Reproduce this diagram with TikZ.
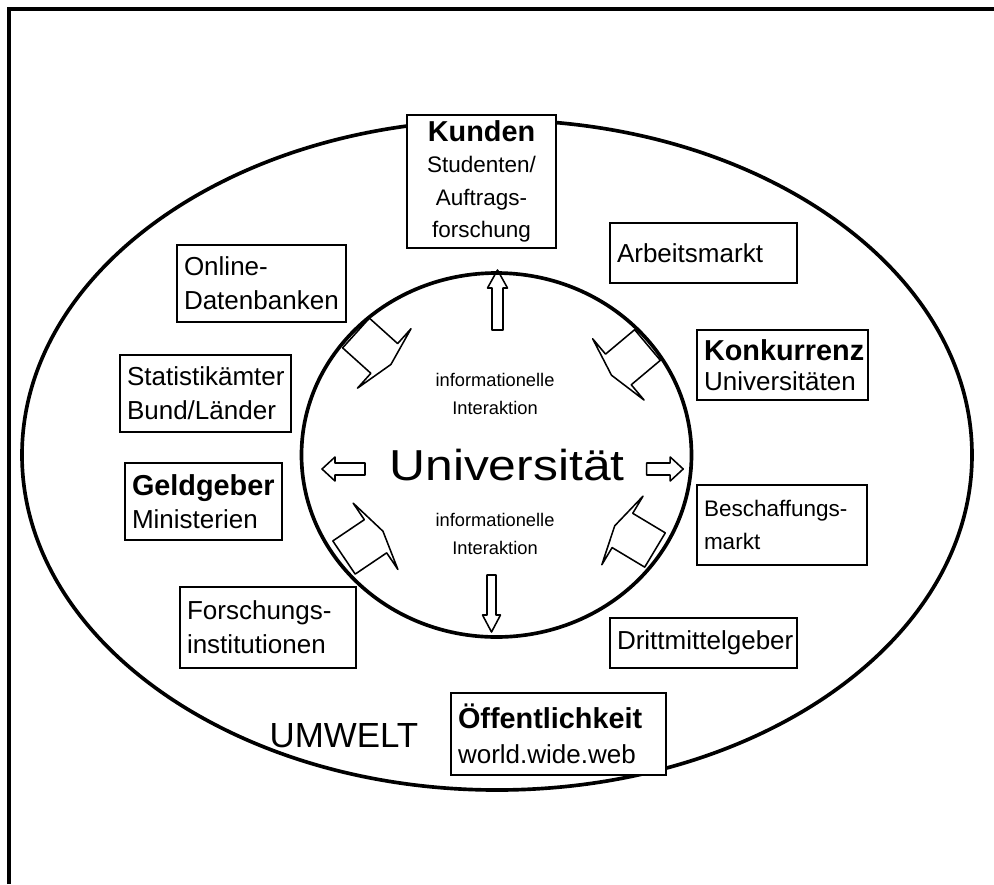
\documentclass[tikz,border=0pt]{standalone}
\usepackage{fontspec}
\setmainfont{Liberation Sans}
\newfontfamily\titlefont[FakeStretch=1.15]{Liberation Sans}

% font sizes (1 unit = 0.025cm)
\newcommand\fN{\fontsize{18.5}{24}\selectfont}
\newcommand\fS{\fontsize{16}{21}\selectfont}
\newcommand\fB{\bfseries\fontsize{20.5}{24}\selectfont}
\newcommand\fI{\fontsize{13}{20}\selectfont}

% labelled box given by its left, top, right and bottom edges
\newcommand\umbox[7][]{%
  \pgfmathsetlengthmacro\bw{(#5-#3)*0.025cm}%
  \pgfmathsetlengthmacro\bh{(#6-#4)*0.025cm}%
  \pgfmathsetlengthmacro\tw{(#5-#3-14)*0.025cm}%
  \node[ubox, minimum width=\bw, minimum height=\bh, text width=\tw, #1]
    (#2) at ({(#3+#5)/2},{(#4+#6)/2}) {#7};}

\begin{document}
\begin{tikzpicture}[x=0.025cm, y=-0.025cm,
  ubox/.style={draw, line width=1.4pt, fill=white, inner xsep=0.175cm,
    inner ysep=0pt, align=left, font=\fN},
  ring/.style={line width=2.6pt},
  arrowline/.style={line width=1.1pt, line join=round},
  pics/bentarrow/.style={code={
    \draw[arrowline] (0,-20) -- (38,-20) -- (38,-40) -- (47,0) -- (38,40)
      -- (38,20) -- (0,20) -- cycle;}},
  pics/hollowarrow/.style n args={4}{code={
    \draw[arrowline] (0,-#3) -- (#1-#2,-#3) -- (#1-#2,-#4) -- (#1,0)
      -- (#1-#2,#4) -- (#1-#2,#3) -- (0,#3) -- cycle;}}
]
\useasboundingbox (0,0) rectangle (994,884);

% frame
\draw[line width=2.2pt] (9,884) -- (9,9) -- (994,9);

% environment and university
\draw[ring] (497,455) ellipse [x radius=475, y radius=335];
\draw[ring] (496.5,455) ellipse [x radius=195, y radius=182];

% surrounding boxes
\umbox[align=center]{kunden}{407}{115}{556}{248}{{\fB Kunden}\\[-2pt]{\fS Studenten/}\\[-1pt]{\fS Auftrags-}\\[-1pt]{\fS forschung}}
\umbox{arbeit}{610}{223}{797}{283}{Arbeitsmarkt}
\umbox{online}{177}{245}{346}{322}{Online-\\Datenbanken}
\umbox{konkurrenz}{697}{330}{868}{400}{{\fB Konkurrenz}\\[-3pt]Universitäten}
\umbox{statistik}{120}{355}{291}{432}{Statistikämter\\Bund/Länder}
\umbox{geldgeber}{125}{463}{282}{540}{{\fB Geldgeber}\\[-1pt]Ministerien}
\umbox{beschaffung}{697}{485}{867}{565}{{\fS Beschaffungs-}\\{\fS markt}\\[4pt]}
\umbox{forschung}{180}{587}{356}{668}{Forschungs-\\institutionen}
\umbox{dritt}{610}{618}{797}{668}{Drittmittelgeber}
\umbox{oeff}{451}{693}{666}{775}{{\fB Öffentlichkeit}\\[1pt]world.wide.web}

\node[font=\fontsize{24.8}{26}\selectfont] (umwelt) at (344,736) {UMWELT};

% centre
\node[font=\titlefont\fontsize{30.8}{32}\selectfont] (uni) at (507,465) {Universität};
\node[font=\fI, align=center] (info1) at (495,394) {informationelle\\Interaktion};
\node[font=\fI, align=center] (info2) at (495,534) {informationelle\\Interaktion};

% straight arrows
\pic[rotate=90] (up) at (497.5,330) {hollowarrow={60}{18}{5.5}{10}};
\pic[rotate=-90] (down) at (491.5,575) {hollowarrow={57}{17}{4.5}{9}};
\pic[rotate=180] (left) at (365,469) {hollowarrow={43}{13}{6}{12}};
\pic (right) at (646.7,469) {hollowarrow={36.5}{13}{6}{12}};

% bent arrows pointing into the university
\pic[rotate=-42] (tl) at (356,333) {bentarrow};
\pic[rotate=-140] (tr) at (647.5,345) {bentarrow};
\pic[rotate=34] (bl) at (344,557.5) {bentarrow};
\pic[rotate=149] (br) at (655,550) {bentarrow};
\end{tikzpicture}
\end{document}
